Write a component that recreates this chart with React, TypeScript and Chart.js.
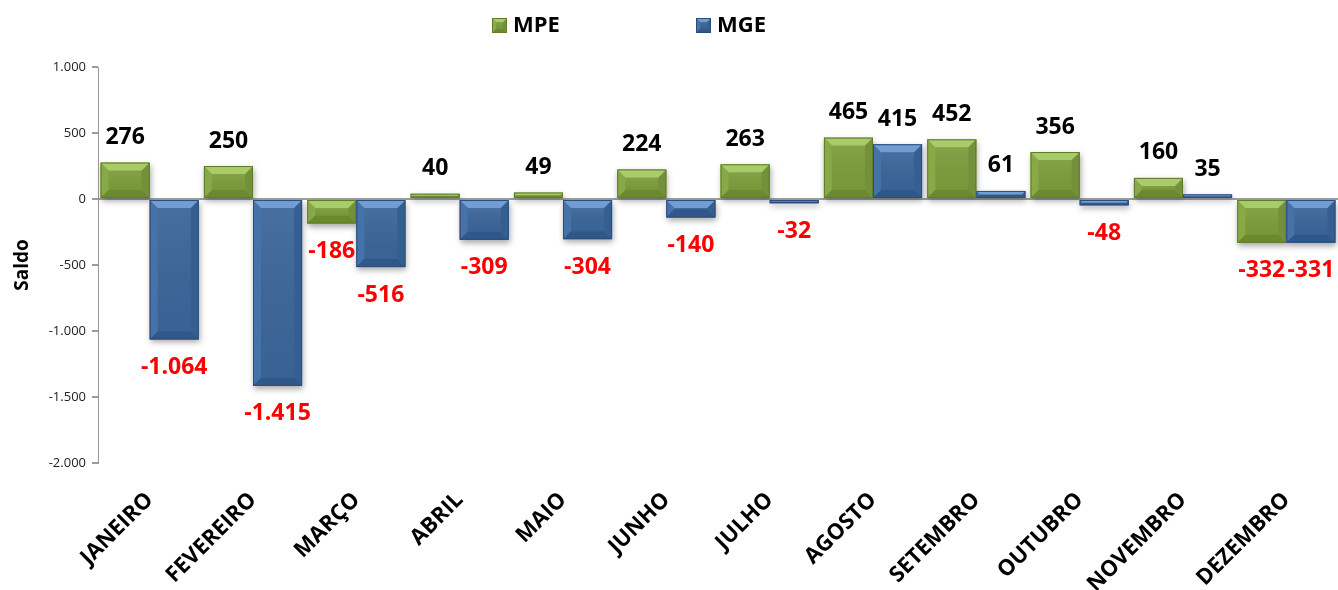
import React, { useEffect, useRef } from "react";
import { Chart, registerables } from "chart.js";

Chart.register(...registerables);

const months = [
  "JANEIRO", "FEVEREIRO", "MARÇO", "ABRIL", "MAIO", "JUNHO",
  "JULHO", "AGOSTO", "SETEMBRO", "OUTUBRO", "NOVEMBRO", "DEZEMBRO",
];
const mpeValues = [276, 250, -186, 40, 49, 224, 263, 465, 452, 356, 160, -332];
const mgeValues = [-1064, -1415, -516, -309, -304, -140, -32, 415, 61, -48, 35, -331];
const seriesNames = ["MPE", "MGE"];
const yMin = -2000;
const yMax = 1000;
const yStep = 500;

const FONT = "'Open Sans', Lato, sans-serif";

const palettes = [
  { face: "#7c9c3c", top: "#a9cb68", bottom: "#6b892d", left: "#87a947", right: "#72913a", border: "#5f7c2a" },
  { face: "#3b6699", top: "#719dd4", bottom: "#30578a", left: "#4573a9", right: "#365f91", border: "#2c4d79" },
];

function fmt(v: number): string {
  const s = Math.abs(Math.round(v)).toString().replace(/\B(?=(\d{3})+(?!\d))/g, ".");
  return (v < 0 ? "-" : "") + s;
}

function bevelRect(ctx: CanvasRenderingContext2D, l: number, t: number, r: number, b: number, p: any, maxBevel = 8) {
  const w = r - l;
  const h = b - t;
  if (w <= 0 || h <= 0) return;
  const bv = Math.max(0, Math.min(maxBevel, h / 2, w / 2));
  ctx.save();
  ctx.fillStyle = p.face;
  ctx.fillRect(l, t, w, h);
  const poly = (pts: number[][], color: string) => {
    ctx.beginPath();
    ctx.moveTo(pts[0][0], pts[0][1]);
    for (let i = 1; i < pts.length; i++) ctx.lineTo(pts[i][0], pts[i][1]);
    ctx.closePath();
    ctx.fillStyle = color;
    ctx.fill();
  };
  if (bv > 0.5) {
    poly([[l, t], [l + bv, t + bv], [l + bv, b - bv], [l, b]], p.left);
    poly([[r, t], [r - bv, t + bv], [r - bv, b - bv], [r, b]], p.right);
    poly([[l, b], [r, b], [r - bv, b - bv], [l + bv, b - bv]], p.bottom);
    poly([[l, t], [r, t], [r - bv, t + bv], [l + bv, t + bv]], p.top);
    const g = ctx.createLinearGradient(0, t + bv, 0, b - bv);
    g.addColorStop(0, "rgba(255,255,255,0.06)");
    g.addColorStop(1, "rgba(0,0,0,0.03)");
    ctx.fillStyle = g;
    ctx.fillRect(l + bv, t + bv, w - 2 * bv, h - 2 * bv);
  }
  ctx.strokeStyle = p.border;
  ctx.lineWidth = 1;
  ctx.strokeRect(l + 0.5, t + 0.5, Math.max(0, w - 1), Math.max(0, h - 1));
  ctx.restore();
}

const bevelPlugin = {
  id: "bevelBars",
  afterDatasetsDraw(chart: any) {
    const ctx = chart.ctx;
    chart.data.datasets.forEach((ds: any, di: number) => {
      const meta = chart.getDatasetMeta(di);
      meta.data.forEach((bar: any) => {
        const l = bar.x - bar.width / 2;
        const r = bar.x + bar.width / 2;
        const t = Math.min(bar.y, bar.base);
        const b = Math.max(bar.y, bar.base);
        ctx.save();
        ctx.shadowColor = "rgba(0,0,0,0.35)";
        ctx.shadowBlur = 6;
        ctx.shadowOffsetX = 1;
        ctx.shadowOffsetY = 3;
        ctx.fillStyle = "rgba(255,255,255,1)";
        ctx.fillRect(l, t, r - l, b - t);
        ctx.restore();
      });
    });
    chart.data.datasets.forEach((ds: any, di: number) => {
      const meta = chart.getDatasetMeta(di);
      const p = palettes[di];
      meta.data.forEach((bar: any) => {
        const l = bar.x - bar.width / 2;
        const r = bar.x + bar.width / 2;
        const t = Math.min(bar.y, bar.base);
        const b = Math.max(bar.y, bar.base);
        bevelRect(ctx, l, t, r, b, p);
      });
    });
    ctx.save();
    ctx.font = `bold 23px ${FONT}`;
    ctx.textAlign = "center";
    ctx.textBaseline = "middle";
    chart.data.datasets.forEach((ds: any, di: number) => {
      const meta = chart.getDatasetMeta(di);
      meta.data.forEach((bar: any, i: number) => {
        const v = ds.data[i];
        if (v >= 0) {
          ctx.fillStyle = "#000000";
          ctx.fillText(fmt(v), bar.x, bar.y - 25);
        } else {
          ctx.fillStyle = "#ff0000";
          ctx.fillText(fmt(v), bar.x, bar.y + 28);
        }
      });
    });
    ctx.restore();
  },
  afterDraw(chart: any) {
    const ctx = chart.ctx;
    const xs = [492, 696];
    ctx.save();
    ctx.font = `bold 22px ${FONT}`;
    ctx.textBaseline = "middle";
    ctx.textAlign = "left";
    seriesNames.forEach((name, i) => {
      const x = xs[i];
      const y = 18;
      bevelRect(ctx, x, y, x + 15, y + 15, palettes[i], 4);
      ctx.fillStyle = "#000000";
      ctx.fillText(name, x + 21, y + 8);
    });
    ctx.restore();
  },
};

export default function App() {
  const ref = useRef<HTMLCanvasElement | null>(null);
  useEffect(() => {
    document.body.style.margin = "0";
    const canvas = ref.current;
    if (!canvas) return;
    const chart = new Chart(canvas, {
      type: "bar",
      data: {
        labels: months,
        datasets: [
          { label: seriesNames[0], data: mpeValues, backgroundColor: "rgba(0,0,0,0)", borderWidth: 0 },
          { label: seriesNames[1], data: mgeValues, backgroundColor: "rgba(0,0,0,0)", borderWidth: 0 },
        ],
      },
      options: {
        responsive: false,
        animation: false,
        maintainAspectRatio: false,
        layout: { padding: { top: 67, left: 0, right: 0, bottom: 0 } },
        datasets: { bar: { categoryPercentage: 0.95, barPercentage: 1.0 } },
        plugins: {
          legend: { display: false },
          tooltip: { enabled: false },
        },
        scales: {
          x: {
            grid: { display: false, drawTicks: false },
            border: { display: false },
            ticks: {
              minRotation: 45,
              maxRotation: 45,
              autoSkip: false,
              padding: 24,
              color: "#000000",
              font: { family: FONT, size: 22, weight: "bold" },
            },
            afterFit: (scale: any) => {
              scale.height = 127;
            },
          },
          y: {
            min: yMin,
            max: yMax,
            ticks: {
              stepSize: yStep,
              padding: 6,
              color: "#222222",
              font: { family: FONT, size: 13 },
              callback: (v: any) => fmt(Number(v)),
            },
            grid: {
              color: (c: any) => (c.tick && c.tick.value === 0 ? "#a0a0a0" : "rgba(0,0,0,0)"),
              lineWidth: 2,
              tickColor: "#9a9a9a",
              tickLength: 6,
            },
            border: { display: true, color: "#9a9a9a", width: 1 },
            title: {
              display: true,
              text: "Saldo",
              color: "#000000",
              font: { family: FONT, size: 19, weight: "bold" },
              padding: { top: 11, bottom: 4 },
            },
            afterFit: (scale: any) => {
              scale.width = 98;
            },
          },
        },
      },
      plugins: [bevelPlugin],
    } as any);
    return () => chart.destroy();
  }, []);
  return (
    <div style={{ width: 1338, height: 590 }}>
      <canvas ref={ref} width={1338} height={590} style={{ width: 1338, height: 590, display: "block" }} />
    </div>
  );
}
